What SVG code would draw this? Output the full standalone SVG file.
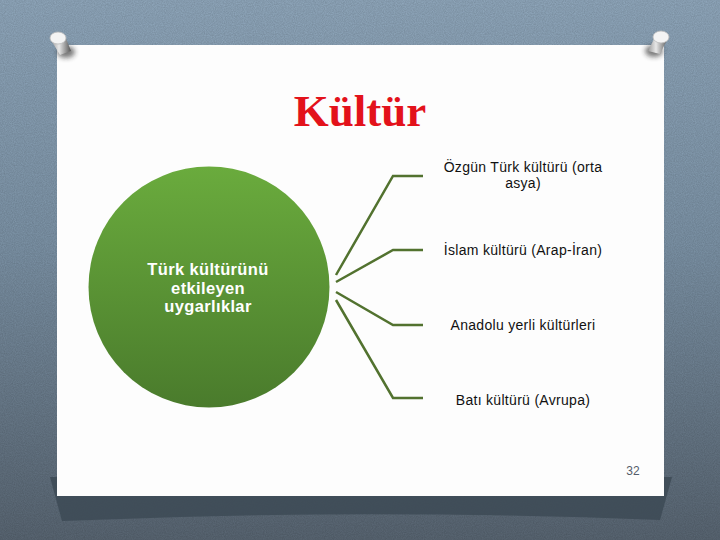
<svg xmlns="http://www.w3.org/2000/svg" width="720" height="540" viewBox="0 0 720 540">
  <defs>
    <linearGradient id="bg" x1="0" y1="0" x2="0" y2="1">
      <stop offset="0" stop-color="#92aabf"/>
      <stop offset="0.45" stop-color="#7e95a9"/>
      <stop offset="1" stop-color="#5a6774"/>
    </linearGradient>
    <linearGradient id="green" x1="0" y1="0" x2="0" y2="1">
      <stop offset="0" stop-color="#6aab3d"/>
      <stop offset="1" stop-color="#4a7b2c"/>
    </linearGradient>
    <linearGradient id="pinbody" x1="0" y1="0" x2="1" y2="0">
      <stop offset="0" stop-color="#9a9a9a"/>
      <stop offset="0.4" stop-color="#e8e8e8"/>
      <stop offset="1" stop-color="#555"/>
    </linearGradient>
    <filter id="noise" x="0" y="0" width="100%" height="100%">
      <feTurbulence type="fractalNoise" baseFrequency="0.9" numOctaves="2" seed="3" result="n"/>
      <feColorMatrix in="n" type="matrix" values="0 0 0 0 0  0 0 0 0 0  0 0 0 0 0  0 0 0 0.18 0"/>
    </filter>
    <filter id="blur" x="-50%" y="-50%" width="200%" height="200%">
      <feGaussianBlur stdDeviation="2.5"/>
    </filter>
    <style>
      .conn { fill: none; stroke: #52722f; stroke-width: 2.5; stroke-linejoin: miter; }
      .lbl { font-family: "Liberation Sans", Arial, sans-serif; font-size: 14px; letter-spacing: 0.3px; fill: #111; text-anchor: middle; }
      .ctr { font-family: "Liberation Sans", Arial, sans-serif; font-size: 16.5px; letter-spacing: 0.35px; font-weight: bold; fill: #ffffff; text-anchor: middle; }
    </style>
  </defs>

  <!-- background -->
  <rect x="0" y="0" width="720" height="540" fill="url(#bg)"/>
  <rect x="0" y="0" width="720" height="540" filter="url(#noise)"/>

  <!-- paper shadow -->
  <path d="M50,477 L672,477 L660,520 Q360,508 62,521 Z" fill="#3e4b56" opacity="0.9"/>

  <!-- paper -->
  <rect x="57" y="45" width="607" height="451" fill="#fdfdfd"/>

  <!-- pins -->
  <g id="pin-left">
    <ellipse cx="66" cy="52" rx="9" ry="6" fill="#222" opacity="0.6" filter="url(#blur)"/>
    <path d="M51,40 L65,36 L71,51 L60,55 Z" fill="url(#pinbody)"/>
    <ellipse cx="58" cy="38" rx="8" ry="6" fill="#f4f4f4" stroke="#bbb" stroke-width="0.8"/>
  </g>
  <g id="pin-right">
    <ellipse cx="654" cy="51" rx="9" ry="6" fill="#222" opacity="0.6" filter="url(#blur)"/>
    <path d="M654,39 L668,38 L660,54 L648,51 Z" fill="url(#pinbody)"/>
    <ellipse cx="661" cy="37" rx="8" ry="6" fill="#f4f4f4" stroke="#bbb" stroke-width="0.8"/>
  </g>

  <!-- title -->
  <text id="title" x="360" y="126" font-family="'Liberation Serif', 'Times New Roman', serif" font-size="45" font-weight="bold" fill="#e3121b" text-anchor="middle">Kültür</text>

  <!-- connectors -->
  <g id="connectors">
    <polyline class="conn" points="336,275 393,176 423,176"/>
    <polyline class="conn" points="336,282 393,250 423,250"/>
    <polyline class="conn" points="336,292 393,325 423,325"/>
    <polyline class="conn" points="336,300 393,398 423,398"/>
  </g>

  <!-- center node -->
  <g id="node-center">
    <circle cx="209" cy="287" r="120.5" fill="url(#green)"/>
    <text class="ctr" x="208" y="275">Türk kültürünü</text>
    <text class="ctr" x="208" y="293.5">etkileyen</text>
    <text class="ctr" x="208" y="312">uygarlıklar</text>
  </g>

  <g id="node-1">
    <text class="lbl" x="523" y="172">Özgün Türk kültürü (orta</text>
    <text class="lbl" x="523" y="188">asya)</text>
  </g>
  <g id="node-2">
    <text class="lbl" x="523" y="255">İslam kültürü (Arap-İran)</text>
  </g>
  <g id="node-3">
    <text class="lbl" x="523" y="330">Anadolu yerli kültürleri</text>
  </g>
  <g id="node-4">
    <text class="lbl" x="523" y="405">Batı kültürü (Avrupa)</text>
  </g>

  <!-- page number -->
  <text id="page-number" x="633" y="475" font-family="'Liberation Sans', Arial, sans-serif" font-size="12" fill="#545c6a" text-anchor="middle">32</text>
</svg>
